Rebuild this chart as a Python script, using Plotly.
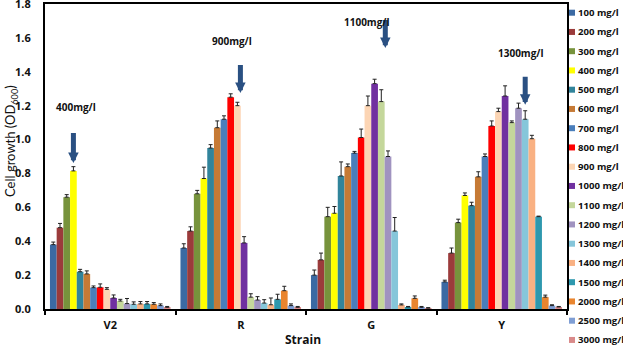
import plotly.graph_objects as go

# ---------------- data ----------------
strains = ["V2", "R", "G", "Y"]
doses = ["100 mg/l", "200 mg/l", "300 mg/l", "400 mg/l", "500 mg/l", "600 mg/l",
         "700 mg/l", "800 mg/l", "900 mg/l", "1000 mg/l", "1100 mg/l", "1200 mg/l",
         "1300 mg/l", "1400 mg/l", "1500 mg/l", "2000 mg/l", "2500 mg/l", "3000 mg/l"]

v2_vals = [0.38, 0.48, 0.66, 0.815, 0.22, 0.207, 0.126, 0.128, 0.116, 0.065, 0.047, 0.032,
           0.028, 0.03, 0.03, 0.028, 0.02, 0.01]
v2_err = [0.015, 0.025, 0.015, 0.025, 0.014, 0.018, 0.01, 0.02, 0.01, 0.018, 0.01, 0.03,
          0.014, 0.014, 0.014, 0.01, 0.01, 0.005]
r_vals = [0.36, 0.46, 0.68, 0.77, 0.95, 1.07, 1.12, 1.25, 1.20, 0.39, 0.07, 0.053,
          0.035, 0.025, 0.057, 0.108, 0.02, 0.01]
r_err = [0.025, 0.025, 0.02, 0.067, 0.02, 0.04, 0.02, 0.02, 0.02, 0.037, 0.02, 0.02,
         0.02, 0.04, 0.03, 0.026, 0.01, 0.005]
g_vals = [0.20, 0.29, 0.545, 0.565, 0.785, 0.84, 0.92, 1.012, 1.20, 1.33, 1.224, 0.90,
          0.46, 0.024, 0.012, 0.063, 0.01, 0.005]
g_err = [0.03, 0.04, 0.055, 0.04, 0.083, 0.016, 0.01, 0.05, 0.057, 0.026, 0.07, 0.033,
         0.08, 0.006, 0.003, 0.014, 0.005, 0.003]
y_vals = [0.16, 0.33, 0.51, 0.67, 0.61, 0.78, 0.90, 1.08, 1.165, 1.257, 1.10, 1.185,
          1.12, 1.005, 0.545, 0.07, 0.02, 0.012]
y_err = [0.01, 0.03, 0.02, 0.015, 0.02, 0.03, 0.015, 0.03, 0.02, 0.06, 0.01, 0.03,
         0.05, 0.02, 0.003, 0.012, 0.005, 0.003]

y_ticks = [0.0, 0.2, 0.4, 0.6, 0.8, 1.0, 1.2, 1.4, 1.6, 1.8]

highlight_doses = ["400 mg/l", "900 mg/l", "1100 mg/l", "1300 mg/l"]
arrow_labels = ["400mg/l", "900mg/l", "1100mg/l", "1300mg/l"]

# ---------------- styles ----------------
colors = ["#3B6AA3", "#9B3B3B", "#77933C", "#FFFF00", "#31849B", "#C67A35",
          "#4A7EBB", "#FF0000", "#FCD5B4", "#7030A0", "#C4D79B", "#A093C0",
          "#86C6DA", "#F9B183", "#2E98AE", "#E9852F", "#7F9ED4", "#D98A8A"]
FONT = "Open Sans"
BARGAP = 0.076
arrow_tip_y = [0.862, 1.275, 1.54, 1.205]
arrow_len_px = [40, 38, 38, 38]
arrow_dx = [0, 3, 4, 0]
text_y = [1.192, 1.582, 1.694, 1.511]
text_dx = [3, -5, -14, -4]

W, H = 623, 348
ML, MR, MT, MB = 45, 56, 4, 39

strain_vals = [v2_vals, r_vals, g_vals, y_vals]
strain_errs = [v2_err, r_err, g_err, y_err]

fig = go.Figure()
for i, dose in enumerate(doses):
    fig.add_trace(go.Bar(
        name=dose,
        x=strains,
        y=[sv[i] for sv in strain_vals],
        marker=dict(color=colors[i], line=dict(width=0)),
        error_y=dict(type="data", array=[se[i] for se in strain_errs],
                     arrayminus=[0] * len(strains), symmetric=False,
                     color="#222222", thickness=1, width=2),
        showlegend=False,
    ))

# arrows + labels placed over the highlighted bar of each strain
n = len(doses)
for k, s in enumerate(strains):
    d = doses.index(highlight_doses[k])
    xc = k - 0.5 + BARGAP / 2 + (d + 0.5) * (1 - BARGAP) / n
    fig.add_annotation(x=xc, y=arrow_tip_y[k], xref="x", yref="y", xshift=arrow_dx[k],
                       showarrow=True, ax=0, ay=-arrow_len_px[k], text=" ",
                       arrowhead=2, arrowsize=0.42, arrowwidth=5,
                       arrowcolor="#2A5082")
    fig.add_annotation(x=xc, y=text_y[k], xref="x", yref="y", xshift=text_dx[k],
                       showarrow=False, text=arrow_labels[k],
                       font=dict(family=FONT, size=10, color="#111111", weight="bold"))

# legend (drawn to match the compact original legend)
pw = W - ML - MR
ph = H - MT - MB
def px2x(px):
    return (px - ML) / pw
def py2y(py):
    return (H - MB - py) / ph
row0, step = 12.7, 19.25
for i, dose in enumerate(doses):
    cy = row0 + i * step
    fig.add_shape(type="rect", xref="paper", yref="paper",
                  x0=px2x(569), x1=px2x(575), y0=py2y(cy + 3), y1=py2y(cy - 3),
                  fillcolor=colors[i], line=dict(width=0))
    fig.add_annotation(xref="paper", yref="paper", x=px2x(575.5), y=py2y(cy),
                       xanchor="left", yanchor="middle", showarrow=False, text=dose,
                       font=dict(family=FONT, size=9.6, color="#111111", weight="bold"))

# axis titles (placed as in the original)
fig.add_annotation(xref="paper", yref="paper", x=px2x(11), y=py2y(141),
                   xanchor="center", yanchor="middle", textangle=-90, showarrow=False,
                   text="Cell growth (OD<sub>600</sub>)",
                   font=dict(family="Lato", size=13, color="#111111"))
fig.add_annotation(xref="paper", yref="paper", x=px2x(303), y=py2y(339.5),
                   xanchor="center", yanchor="middle", showarrow=False,
                   text="Strain",
                   font=dict(family=FONT, size=12, color="#111111", weight="bold"))

fig.update_layout(
    width=W, height=H,
    margin=dict(l=ML, r=MR, t=MT, b=MB, autoexpand=False),
    barmode="group", bargap=BARGAP, bargroupgap=0,
    plot_bgcolor="white", paper_bgcolor="white",
    font=dict(family=FONT, color="#111111"),
)
fig.update_xaxes(
    tickfont=dict(family=FONT, size=11, weight="bold"),
    showline=True, linecolor="black", linewidth=2, mirror=True,
    ticks="outside", tickson="boundaries", ticklen=4, tickwidth=2, tickcolor="black",
    ticklabelstandoff=5, automargin=False,
    showgrid=False,
)
fig.update_yaxes(
    range=[0, 1.8], tickvals=y_ticks, tickformat=".1f",
    tickfont=dict(family=FONT, size=11, weight="bold"),
    showline=True, linecolor="black", linewidth=2, mirror=True,
    ticks="", ticklabelstandoff=10, ticklabeloverflow="allow", automargin=False,
    showgrid=False, zeroline=False,
)

fig.write_html("out.html")
